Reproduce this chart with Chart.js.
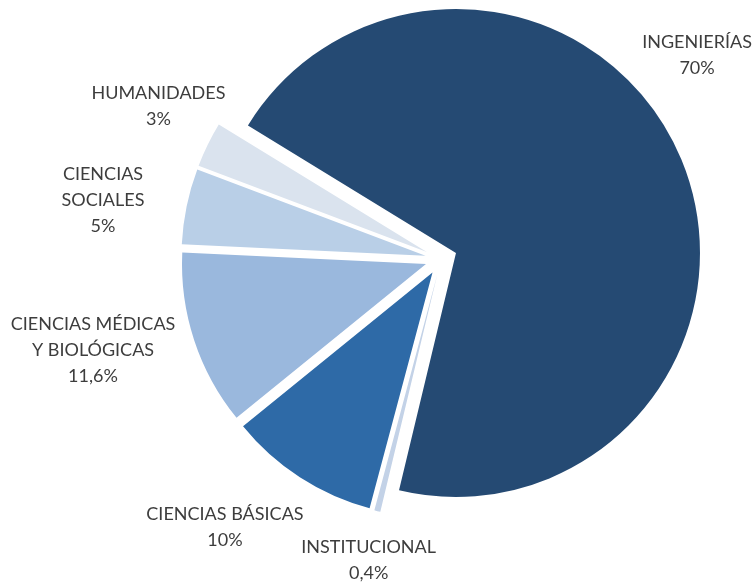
<!DOCTYPE html>
<html>
<head>
<meta charset="utf-8">
<script src="https://cdn.jsdelivr.net/npm/chart.js@4.4.1/dist/chart.umd.min.js"></script>
<style>
    html, body { margin: 0; padding: 0; background: #fff; }
    #wrap { position: relative; width: 756px; height: 582px; }
</style>
</head>
<body>
<div id="wrap"><canvas id="chart_pie"></canvas></div>
<script>
// slices, clockwise from the big one
const categories = [
    ['INGENIERÍAS'],
    ['INSTITUCIONAL'],
    ['CIENCIAS BÁSICAS'],
    ['CIENCIAS MÉDICAS', 'Y BIOLÓGICAS'],
    ['CIENCIAS', 'SOCIALES'],
    ['HUMANIDADES']
];
const values = [70, 0.4, 10, 11.6, 5, 3];

function pct(v) {
    return String(v).replace('.', ',') + '%';
}

// pushes every slice out along its own middle angle (like excel explode)
const explodePlugin = {
    id: 'explode',
    afterDatasetUpdate(chart, args, opts) {
        args.meta.data.forEach(function (arc) {
            const mid = (arc.startAngle + arc.endAngle) / 2;
            arc.x += Math.cos(mid) * opts.distance;
            arc.y += Math.sin(mid) * opts.distance;
        });
    }
};

// category + percent written outside each slice
const labelPlugin = {
    id: 'sliceLabels',
    afterDatasetsDraw(chart, args, opts) {
        const ctx = chart.ctx;
        const meta = chart.getDatasetMeta(0);
        ctx.save();
        ctx.font = opts.font;
        ctx.fillStyle = opts.color;
        ctx.textAlign = 'center';
        ctx.textBaseline = 'middle';
        meta.data.forEach(function (arc, i) {
            const ang = (arc.startAngle + arc.endAngle) / 2 + opts.turn[i] * Math.PI / 180;
            const cx = arc.x + Math.cos(ang) * opts.dist[i];
            const cy = arc.y + Math.sin(ang) * opts.dist[i];
            const lines = [].concat(chart.data.labels[i], pct(chart.data.datasets[0].data[i]));
            const top = cy - (lines.length - 1) * opts.lineHeight / 2;
            lines.forEach(function (t, k) {
                ctx.fillText(t, cx, top + k * opts.lineHeight);
            });
        });
        ctx.restore();
    }
};

var ctx = document.getElementById('chart_pie');
var myChart = new Chart(ctx, {
    type: 'pie',
    data: {
        labels: categories,
        datasets: [{
            data: values,
            backgroundColor: [
                '#254A73',
                '#C3D2E7',
                '#2E6AA7',
                '#9AB8DD',
                '#B9CFE7',
                '#DAE3EE'
            ],
            borderWidth: 0
        }]
    },
    options: {
        animation: false,
        responsive: true,
        maintainAspectRatio: false,
        events: [],
        rotation: -58.5,
        radius: 244,
        layout: {
            padding: { left: 128.4, right: 2, top: 2, bottom: 65.8 }
        },
        plugins: {
            legend: { display: false },
            tooltip: { enabled: false },
            explode: { distance: 16 },
            sliceLabels: {
                font: '18px Lato',
                color: '#3d3d3d',
                lineHeight: 26,
                dist: [312, 293.5, 328.8, 343.9, 327.3, 305.7],
                turn: [-16.9, -0.7, 6.2, 3.7, -1.9, 2.5]
            }
        }
    },
    plugins: [explodePlugin, labelPlugin]
});
</script>
</body>
</html>
